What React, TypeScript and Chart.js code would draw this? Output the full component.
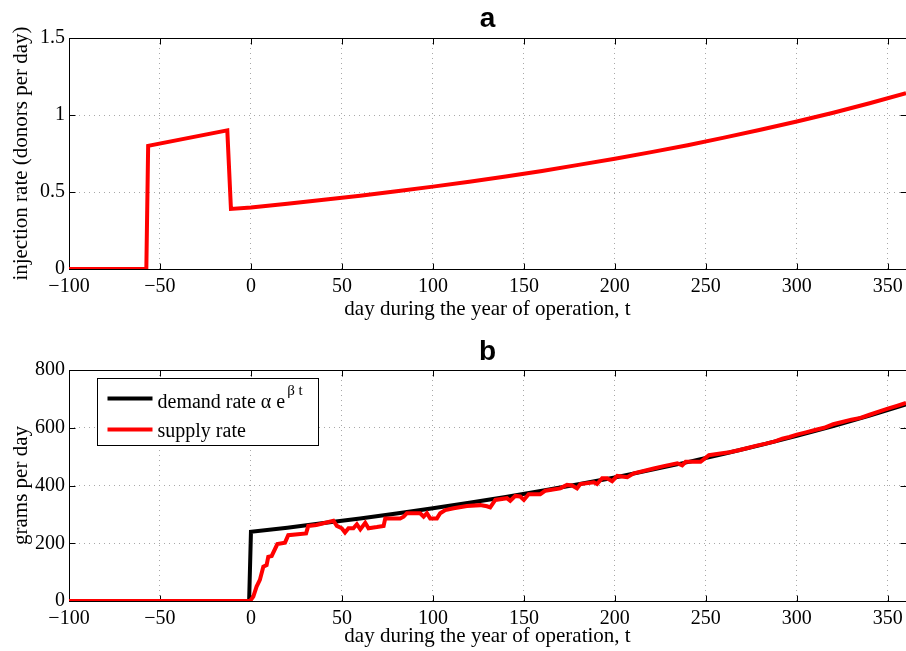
import React, { useEffect, useRef } from 'react';
import { Chart, registerables } from 'chart.js';

Chart.register(...registerables);

// ---------- data ----------
const xTicks = [-100, -50, 0, 50, 100, 150, 200, 250, 300, 350];
const injTicks = [0, 0.5, 1, 1.5];
const gramTicks = [0, 200, 400, 600, 800];

const injDays = [-100, -57.5, -56.5, -13, -11, 0, 20, 40, 60, 80, 100, 120, 140, 160, 180, 200, 220, 240, 260, 280, 300, 320, 340, 360];
const injRate = [0, 0, 0.8, 0.9, 0.39, 0.4, 0.424, 0.45, 0.476, 0.505, 0.535, 0.567, 0.601, 0.637, 0.676, 0.716, 0.759, 0.804, 0.853, 0.904, 0.958, 1.015, 1.076, 1.141];

const demandDays = [-100, -1, 0, 20, 40, 60, 80, 100, 120, 140, 160, 180, 200, 220, 240, 260, 280, 300, 320, 340, 360];
const demandRate = [0, 0, 240, 254, 270, 286, 303, 321, 340, 360, 382, 404, 428, 454, 481, 510, 540, 572, 606, 642, 681];

const supplyDays = [-100, -0.5, 1.3, 3.1, 4.9, 6.8, 8.6, 9.5, 11.4, 14.5, 18.7, 20.5, 30.3, 31.5, 36, 45.3, 47.2, 49.9, 51.7, 53.6, 56.3, 58.2, 60.1, 62.8, 64.6, 69.2, 72.9, 73.8, 82, 83.9, 85.7, 93, 94.9, 96.7, 98.5, 102.2, 104, 106.8, 111.4, 118.7, 126, 129.7, 131.5, 134.3, 140.7, 142.5, 145.3, 148, 150, 152.6, 159, 161.8, 170, 173.7, 176.5, 179.2, 181, 188.4, 190.2, 193, 195.7, 198.5, 201.3, 206.8, 210.4, 221.4, 226.9, 234.3, 237, 238.9, 247.1, 251.7, 258, 263, 268, 273, 278, 283, 288, 292, 296, 300, 305, 310, 315, 320, 325, 330, 335, 340, 345, 350, 355, 360];
const supplyRate = [0, 0, 15, 50, 73, 119, 124, 153, 156, 197, 202, 228, 234, 260, 263, 278, 260, 252, 237, 252, 252, 266, 248, 271, 252, 256, 260, 286, 286, 292, 304, 304, 292, 304, 286, 286, 304, 315, 321, 329, 332, 328, 324, 350, 356, 347, 364, 362, 350, 370, 370, 382, 390, 402, 400, 390, 405, 411, 405, 425, 425, 415, 433, 429, 442, 459, 467, 477, 470, 482, 482, 505, 511, 515, 522, 530, 538, 545, 553, 562, 568, 576, 584, 592, 600, 612, 620, 628, 634, 645, 656, 666, 676, 686];

// ---------- styles ----------
const SERIF = '"Liberation Serif", "Times New Roman", serif';
const SANS = '"Liberation Sans", Arial, sans-serif';
const W = 906;
const TOP_H = 326;
const BOT_H = 325;

const fmt = (v: number) => (v < 0 ? '\u2212' + Math.abs(v) : String(v));

const boxPlugin = {
  id: 'matlabBox',
  beforeDatasetsDraw(chart: any) {
    const { ctx, chartArea, scales } = chart;
    const L = Math.round(chartArea.left) + 0.5;
    const R = Math.round(chartArea.right) + 0.5;
    const T = Math.round(chartArea.top) + 0.5;
    const B = Math.round(chartArea.bottom) + 0.5;
    ctx.save();
    ctx.strokeStyle = '#000';
    ctx.lineWidth = 1;
    ctx.strokeRect(L, T, R - L, B - T);
    ctx.beginPath();
    scales.x.ticks.forEach((t: any) => {
      const px = Math.round(scales.x.getPixelForValue(t.value)) + 0.5;
      ctx.moveTo(px, B);
      ctx.lineTo(px, B - 6);
      ctx.moveTo(px, T);
      ctx.lineTo(px, T + 6);
    });
    scales.y.ticks.forEach((t: any) => {
      const py = Math.round(scales.y.getPixelForValue(t.value)) + 0.5;
      ctx.moveTo(L, py);
      ctx.lineTo(L + 6, py);
      ctx.moveTo(R, py);
      ctx.lineTo(R - 6, py);
    });
    ctx.stroke();
    ctx.restore();
  },
};

const legendPlugin = {
  id: 'matlabLegend',
  afterDatasetsDraw(chart: any) {
    const { ctx, chartArea } = chart;
    const x0 = Math.round(chartArea.left) + 28.5;
    const y0 = Math.round(chartArea.top) + 8.5;
    const w = 221;
    const h = 67;
    ctx.save();
    ctx.fillStyle = '#fff';
    ctx.fillRect(x0, y0, w, h);
    ctx.strokeStyle = '#000';
    ctx.lineWidth = 1;
    ctx.strokeRect(x0, y0, w, h);
    // lines
    ctx.lineWidth = 4;
    ctx.strokeStyle = '#000';
    ctx.beginPath();
    ctx.moveTo(x0 + 10, y0 + 20);
    ctx.lineTo(x0 + 55, y0 + 20);
    ctx.stroke();
    ctx.strokeStyle = '#ff0000';
    ctx.beginPath();
    ctx.moveTo(x0 + 10, y0 + 51);
    ctx.lineTo(x0 + 55, y0 + 51);
    ctx.stroke();
    // text
    ctx.fillStyle = '#000';
    ctx.textBaseline = 'alphabetic';
    ctx.textAlign = 'left';
    ctx.font = `20px ${SERIF}`;
    const main = 'demand rate \u03b1 e';
    ctx.fillText(main, x0 + 60, y0 + 29);
    const mw = ctx.measureText(main).width;
    ctx.font = `15px ${SERIF}`;
    ctx.fillText('\u03b2 t', x0 + 60 + mw + 2, y0 + 16);
    ctx.font = `20px ${SERIF}`;
    ctx.fillText('supply rate', x0 + 60, y0 + 58);
    ctx.restore();
  },
};

function xScale(height: number, titlePadBottom: number) {
  return {
    type: 'linear',
    min: -100,
    max: 360,
    afterBuildTicks: (s: any) => {
      s.ticks = xTicks.map((v) => ({ value: v }));
    },
    afterFit: (s: any) => {
      s.height = height;
      s.paddingLeft = 0;
      s.paddingRight = 0;
    },
    grid: { color: '#a8a8a8', lineWidth: 1, drawTicks: false },
    border: { display: false, dash: [1, 4] },
    ticks: {
      callback: (v: any) => fmt(Number(v)),
      font: { family: SERIF, size: 20 },
      color: '#000',
      padding: 6,
      maxRotation: 0,
      autoSkip: false,
    },
    title: {
      display: true,
      text: 'day during the year of operation, t',
      font: { family: SERIF, size: 21 },
      color: '#000',
      padding: { top: 0, bottom: titlePadBottom },
    },
  };
}

function yScale(min: number, max: number, ticks: number[], title: string) {
  return {
    type: 'linear',
    min,
    max,
    afterBuildTicks: (s: any) => {
      s.ticks = ticks.map((v) => ({ value: v }));
    },
    afterFit: (s: any) => {
      s.width = 69;
      s.paddingTop = 0;
      s.paddingBottom = 0;
    },
    grid: { color: '#a8a8a8', lineWidth: 1, drawTicks: false },
    border: { display: false, dash: [1, 4] },
    ticks: {
      callback: (v: any) => fmt(Number(v)),
      font: { family: SERIF, size: 20 },
      color: '#000',
      padding: 4,
      autoSkip: false,
    },
    title: {
      display: true,
      text: title,
      font: { family: SERIF, size: 21 },
      color: '#000',
      padding: { top: 9, bottom: 0 },
    },
  };
}

function titleOpts(text: string, top: number, bottom: number) {
  return {
    display: true,
    text,
    fullSize: false,
    font: { family: SANS, size: 28, weight: 'bold' },
    color: '#000',
    padding: { top, bottom },
  };
}

export default function App() {
  const topRef = useRef<HTMLCanvasElement>(null);
  const botRef = useRef<HTMLCanvasElement>(null);

  useEffect(() => {
    const top = new Chart(topRef.current as any, {
      type: 'line',
      data: {
        datasets: [
          {
            data: injDays.map((d, i) => ({ x: d, y: injRate[i] })),
            borderColor: '#ff0000',
            borderWidth: 4,
            pointRadius: 0,
            tension: 0,
            clip: 0,
          } as any,
        ],
      },
      options: {
        responsive: false,
        animation: false,
        events: [],
        layout: { padding: 0 },
        plugins: {
          legend: { display: false },
          tooltip: { enabled: false },
          title: titleOpts('a', 2.2, 2.2) as any,
        },
        scales: {
          x: xScale(TOP_H - 269, 4.4) as any,
          y: yScale(0, 1.5, injTicks, 'injection rate (donors per day)') as any,
        },
      },
      plugins: [boxPlugin],
    });

    const bot = new Chart(botRef.current as any, {
      type: 'line',
      data: {
        datasets: [
          {
            label: 'demand rate',
            data: demandDays.map((d, i) => ({ x: d, y: demandRate[i] })),
            borderColor: '#000000',
            borderWidth: 4,
            pointRadius: 0,
            tension: 0,
            clip: 0,
            order: 1,
          } as any,
          {
            label: 'supply rate',
            data: supplyDays.map((d, i) => ({ x: d, y: supplyRate[i] })),
            borderColor: '#ff0000',
            borderWidth: 4,
            pointRadius: 0,
            tension: 0,
            clip: 0,
            order: 0,
          } as any,
        ],
      },
      options: {
        responsive: false,
        animation: false,
        events: [],
        layout: { padding: 0 },
        plugins: {
          legend: { display: false },
          tooltip: { enabled: false },
          title: titleOpts('b', 9.2, 1.2) as any,
        },
        scales: {
          x: xScale(BOT_H - 275, 2.4) as any,
          y: yScale(0, 800, gramTicks, 'grams per day') as any,
        },
      },
      plugins: [boxPlugin, legendPlugin],
    });

    return () => {
      top.destroy();
      bot.destroy();
    };
  }, []);

  return (
    <div style={{ position: 'absolute', left: 0, top: 0, width: W, height: TOP_H + BOT_H, overflow: 'hidden', background: '#fff' }}>
      <canvas ref={topRef} width={W} height={TOP_H} style={{ position: 'absolute', left: 0, top: 0, width: W, height: TOP_H }} />
      <canvas ref={botRef} width={W} height={BOT_H} style={{ position: 'absolute', left: 0, top: TOP_H, width: W, height: BOT_H }} />
    </div>
  );
}
